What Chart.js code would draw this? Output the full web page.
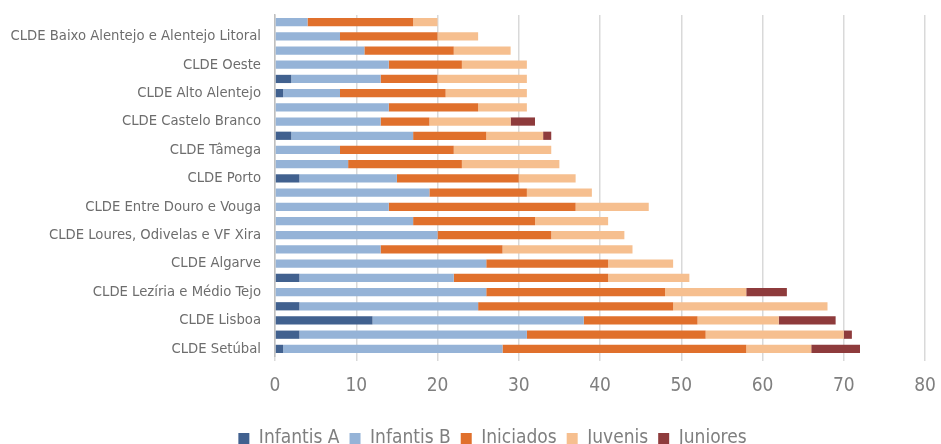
<!DOCTYPE html>
<html>
<head>
<meta charset="utf-8">
<script src="https://cdn.jsdelivr.net/npm/chart.js@4/dist/chart.umd.min.js"></script>
<style>
  html, body { margin: 0; padding: 0; background: #fff; overflow: hidden; }
  #wrap { width: 941px; height: 458px; }
</style>
</head>
<body>
<div id="wrap"><canvas id="chart" width="941" height="458"></canvas></div>
<script>
// categories, bottom to top (the Excel order)
const categories = [
    'CLDE Setúbal', 'CLDE Sintra', 'CLDE Lisboa', 'CLDE Oeiras e Cascais',
    'CLDE Lezíria e Médio Tejo', 'CLDE Leiria', 'CLDE Algarve', 'CLDE Coimbra',
    'CLDE Loures, Odivelas e VF Xira', 'CLDE Aveiro', 'CLDE Entre Douro e Vouga', 'CLDE Cávado',
    'CLDE Porto', 'CLDE Ave', 'CLDE Tâmega', 'CLDE Viseu',
    'CLDE Castelo Branco', 'CLDE Alentejo Central', 'CLDE Alto Alentejo', 'CLDE Alto Minho',
    'CLDE Oeste', 'CLDE Douro', 'CLDE Baixo Alentejo e Alentejo Litoral', 'CLDE Trás-os-Montes'
];

const infantisA = [1, 3, 12, 3, 0, 3, 0, 0, 0, 0, 0, 0, 3, 0, 0, 2, 0, 0, 1, 2, 0, 0, 0, 0];
const infantisB = [27, 28, 26, 22, 26, 19, 26, 13, 20, 17, 14, 19, 12, 9, 8, 15, 13, 14, 7, 11, 14, 11, 8, 4];
const iniciados = [30, 22, 14, 24, 22, 19, 15, 15, 14, 15, 23, 12, 15, 14, 14, 9, 6, 11, 13, 7, 9, 11, 12, 13];
const juvenis   = [8, 17, 10, 19, 10, 10, 8, 16, 9, 9, 9, 8, 7, 12, 12, 7, 10, 6, 10, 11, 8, 7, 5, 3];
const juniores  = [6, 1, 7, 0, 5, 0, 0, 0, 0, 0, 0, 0, 0, 0, 0, 1, 3, 0, 0, 0, 0, 0, 0, 0];

const xTicks = [0, 10, 20, 30, 40, 50, 60, 70, 80];

const font = "'Liberation Sans Narrow', 'DejaVu Sans Condensed', 'Roboto', sans-serif";
const grey = '#7f7f7f';

function series(label, data, color) {
    return {
        label: label,
        data: data,
        backgroundColor: color,
        borderWidth: 0,
        barPercentage: 0.58,
        categoryPercentage: 1.0
    };
}

// the legend in the original sits a little right of centre
const shiftLegend = {
    id: 'shiftLegend',
    afterLayout(chart) {
        if (chart.legend) {
            chart.legend.left += 60;
        }
    }
};

const chart = new Chart(document.getElementById('chart').getContext('2d'), {
    type: 'bar',
    data: {
        labels: categories,
        datasets: [
            series('Infantis A', infantisA, '#41618f'),
            series('Infantis B', infantisB, '#95b3d7'),
            series('Iniciados', iniciados, '#e0702c'),
            series('Juvenis', juvenis, '#f6bf8f'),
            series('Juniores', juniores, '#8e3b3c')
        ]
    },
    plugins: [shiftLegend],
    options: {
        indexAxis: 'y',
        responsive: false,
        animation: false,
        layout: { padding: { top: 15, right: 16, left: 0, bottom: 0 } },
        plugins: {
            legend: {
                position: 'bottom',
                labels: {
                    font: { family: font, size: 19 },
                    color: grey,
                    boxWidth: 11,
                    boxHeight: 11,
                    padding: 10
                }
            },
            tooltip: { enabled: false }
        },
        scales: {
            x: {
                stacked: true,
                min: 0,
                max: 80,
                afterBuildTicks: function(scale) {
                    scale.ticks = xTicks.map(v => ({ value: v }));
                },
                afterFit: function(scale) {
                    scale.height = 63;
                    scale.paddingRight = 0;
                    scale.paddingLeft = 0;
                },
                ticks: {
                    font: { family: font, size: 19 },
                    color: grey,
                    padding: 14
                },
                grid: { color: '#d9d9d9', lineWidth: 1.5, tickLength: 5 },
                border: { display: false }
            },
            y: {
                stacked: true,
                reverse: true,
                afterFit: function(scale) {
                    scale.width = 275;
                    scale.paddingTop = 0;
                    scale.paddingBottom = 0;
                },
                ticks: {
                    autoSkip: false,
                    font: { family: font, size: 14.7 },
                    color: '#6d6d6d',
                    padding: 6,
                    callback: function(val, i) {
                        return i % 2 === 0 ? this.getLabelForValue(val) : '';
                    }
                },
                grid: { display: false },
                border: { display: true, color: '#bfbfbf', width: 1.5 }
            }
        }
    }
});
</script>
</body>
</html>
